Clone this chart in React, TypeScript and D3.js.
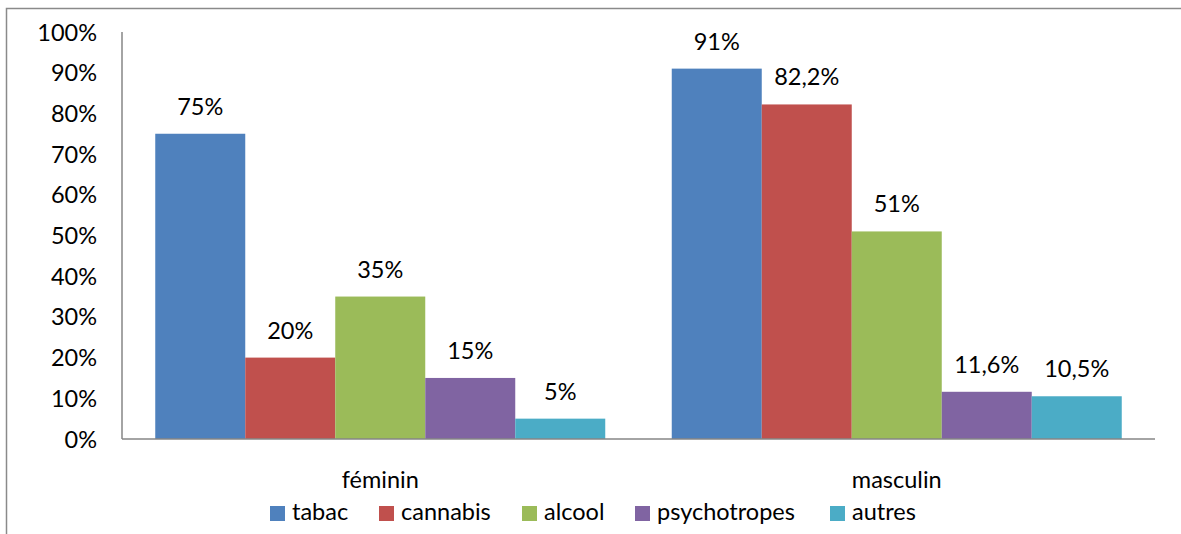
import React from "react";
import * as d3 from "d3";

const categories = ["féminin", "masculin"];
const seriesNames = ["tabac", "cannabis", "alcool", "psychotropes", "autres"];
const tabac = [75, 91];
const cannabis = [20, 82.2];
const alcool = [35, 51];
const psychotropes = [15, 11.6];
const autres = [5, 10.5];
const labelsTabac = ["75%", "91%"];
const labelsCannabis = ["20%", "82,2%"];
const labelsAlcool = ["35%", "51%"];
const labelsPsycho = ["15%", "11,6%"];
const labelsAutres = ["5%", "10,5%"];
const yTicks = [0, 10, 20, 30, 40, 50, 60, 70, 80, 90, 100];
const colors = ["#4F81BD", "#C0504D", "#9BBB59", "#8064A2", "#4BACC6"];

const seriesValues = [tabac, cannabis, alcool, psychotropes, autres];
const seriesLabels = [labelsTabac, labelsCannabis, labelsAlcool, labelsPsycho, labelsAutres];

const W = 1181;
const H = 534;
const plotL = 122;
const plotR = 1155;
const plotT = 32;
const plotB = 439;
const FONT = "Lato, 'Open Sans', sans-serif";
const FS = 23.5;

export default function App() {
  const y = d3.scaleLinear().domain([0, 100]).range([plotB, plotT]);
  const x0 = d3.scaleBand().domain(categories).range([plotL, plotR]).paddingInner(0).paddingOuter(0);
  const groupPad = 33.25;
  const x1 = d3
    .scaleBand()
    .domain(seriesNames)
    .range([groupPad, x0.bandwidth() - groupPad])
    .padding(0);

  const legendX = [270, 379, 522, 635, 830];

  return (
    <svg width={W} height={H} style={{ position: "absolute", left: 0, top: 0 }} fontFamily={FONT}>
      <rect x={0} y={0} width={W} height={H} fill="#fff" />
      <rect x={6.5} y={8.5} width={W + 10} height={H + 10} fill="none" stroke="#8a8a8a" strokeWidth={1.5} />
      {yTicks.map((t) => (
        <text key={t} x={97} y={y(t) + 8.5} textAnchor="end" fontSize={FS} fill="#000">
          {t}%
        </text>
      ))}
      {categories.map((c, ci) => (
        <g key={c}>
          {seriesNames.map((s, si) => {
            const v = seriesValues[si][ci];
            const bx = (x0(c) as number) + (x1(s) as number);
            const bw = x1.bandwidth();
            return (
              <g key={s}>
                <rect x={bx} y={y(v)} width={bw} height={plotB - y(v)} fill={colors[si]} />
                <text x={bx + bw / 2} y={y(v) - 19} textAnchor="middle" fontSize={FS} fill="#000">
                  {seriesLabels[si][ci]}
                </text>
              </g>
            );
          })}
          <text x={(x0(c) as number) + x0.bandwidth() / 2} y={488} textAnchor="middle" fontSize={FS} fill="#000">
            {c}
          </text>
        </g>
      ))}
      <line x1={plotL} x2={plotL} y1={plotT} y2={plotB} stroke="#868686" strokeWidth={1.5} />
      <line x1={plotL} x2={plotR} y1={plotB} y2={plotB} stroke="#868686" strokeWidth={1.5} />
      {seriesNames.map((name, i) => (
        <g key={name}>
          <rect x={legendX[i]} y={506} width={15} height={15} fill={colors[i]} />
          <text x={legendX[i] + 22} y={520} fontSize={FS} fill="#000">
            {name}
          </text>
        </g>
      ))}
    </svg>
  );
}
